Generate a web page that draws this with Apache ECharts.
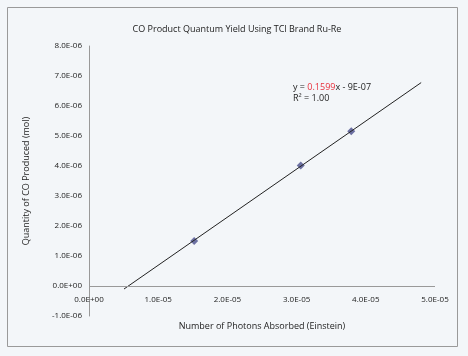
<!DOCTYPE html>
<html><head><meta charset="utf-8">
<script src="https://cdn.jsdelivr.net/npm/echarts@6/dist/echarts.min.js"></script>
<style>html,body{margin:0;padding:0;background:#f3f6f9;}#c{width:468px;height:356px;}</style>
</head><body><div id="c"></div>
<script>
// Data
var photonsAbsorbed = [1.52e-5, 3.06e-5, 3.79e-5];
var coProduced = [1.5e-6, 4.02e-6, 5.16e-6];
var trendX = [5.06e-6, 4.8e-5];
var trendY = [-1.0e-7, 6.78e-6];
var titleText = 'CO Product Quantum Yield Using TCl Brand Ru-Re';
var xName = 'Number of Photons Absorbed (Einstein)';
var yName = 'Quantity of CO Produced (mol)';

function fmt(v) {
  var s = Number(v).toExponential(1);
  var m = s.split('e');
  var mant = m[0];
  var exp = parseInt(m[1], 10);
  if (Math.abs(v) < 1e-20) { mant = '0.0'; exp = 0; }
  var sign = exp < 0 ? '-' : '+';
  var e = Math.abs(exp);
  return mant + 'E' + sign + (e < 10 ? '0' + e : e);
}

var font = 'Open Sans';
var txt = '#222';
var chart = echarts.init(document.getElementById('c'));
chart.setOption({
  backgroundColor: '#f3f6f9',
  animation: false,
  title: {
    text: titleText, left: 232, top: 20, textAlign: 'center',
    textStyle: { fontFamily: font, fontSize: 9, fontWeight: 'normal', color: txt }
  },
  grid: { left: 89, top: 46, right: 33, bottom: 40, outerBoundsMode: 'none', containLabel: false },
  xAxis: {
    type: 'value', min: 0, max: 5e-5, interval: 1e-5,
    axisLine: { show: false, onZero: false },
    axisTick: { show: false }, splitLine: { show: false },
    axisLabel: { formatter: fmt, fontFamily: font, fontSize: 8, color: txt, margin: -20, showMinLabel: true, showMaxLabel: true },
    name: xName, nameLocation: 'middle', nameGap: 5,
    nameTextStyle: { fontFamily: font, fontSize: 9, color: txt }
  },
  yAxis: {
    type: 'value', min: -1e-6, max: 8e-6, interval: 1e-6,
    axisLine: { show: true, onZero: false, lineStyle: { color: '#999', width: 1 } },
    axisTick: { show: false }, splitLine: { show: false },
    axisLabel: { formatter: fmt, fontFamily: font, fontSize: 8, color: txt, margin: 7 },
    name: yName, nameLocation: 'middle', nameGap: 58, nameRotate: 90,
    nameTextStyle: { fontFamily: font, fontSize: 9, color: txt }
  },
  graphic: [
    { type: 'rect', shape: { x: 7.5, y: 7.5, width: 450, height: 339 }, style: { fill: 'none', stroke: '#9a9a9a', lineWidth: 1 }, silent: true },
    { type: 'text', left: 293, top: 83, style: {
        text: '{a|y = }{r|0.1599}{a|x - 9E-07}\n{a|R² = 1.00}',
        rich: {
          a: { fontFamily: font, fontSize: 9, fill: '#222', lineHeight: 11 },
          r: { fontFamily: font, fontSize: 9, fill: '#e8303c', lineHeight: 11 }
        }
      } }
  ],
  series: [
    {
      type: 'line', data: trendX.map(function (x, i) { return [x, trendY[i]]; }),
      symbol: 'none', lineStyle: { color: '#222', width: 1 }, silent: true,
      markLine: {
        silent: true, symbol: 'none', label: { show: false },
        lineStyle: { color: '#999', width: 1, type: 'solid' },
        data: [{ yAxis: 0 }]
      }
    },
    {
      type: 'scatter', data: photonsAbsorbed.map(function (x, i) { return [x, coProduced[i]]; }),
      symbol: 'diamond', symbolSize: 8, itemStyle: { color: '#4a4f8c' }
    }
  ]
});
</script></body></html>
